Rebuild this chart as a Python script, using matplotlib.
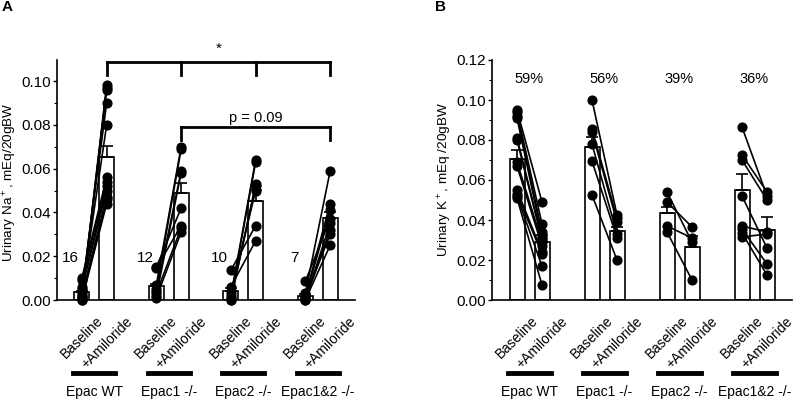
import numpy as np
import matplotlib
matplotlib.use("Agg")
import matplotlib.pyplot as plt
from matplotlib.ticker import MultipleLocator, FormatStrFormatter

plt.rcParams['font.family'] = ['Liberation Sans', 'DejaVu Sans']
plt.rcParams['mathtext.fontset'] = 'custom'
plt.rcParams['mathtext.rm'] = 'Liberation Sans'

groups = ["Epac WT", "Epac1 -/-", "Epac2 -/-", "Epac1&2 -/-"]
conds = ["Baseline", "+Amiloride"]

# Panel A: urinary Na+ (paired mice, baseline -> amiloride)
na_base = [
    [0.001, 0.000, 0.002, 0.004, 0.003, 0.010, 0.009, 0.006, 0.005, 0.002, 0.001, 0.000],
    [0.015, 0.0145, 0.007, 0.005, 0.004, 0.002, 0.001, 0.003],
    [0.0135, 0.006, 0.002, 0.001, 0.000, 0.000, 0.003],
    [0.0085, 0.003, 0.002, 0.001, 0.000, 0.0005, 0.001, 0.000],
]
na_amil = [
    [0.098, 0.097, 0.096, 0.090, 0.080, 0.056, 0.054, 0.052, 0.050, 0.047, 0.046, 0.044],
    [0.042, 0.034, 0.070, 0.069, 0.059, 0.058, 0.031, 0.033],
    [0.034, 0.027, 0.064, 0.063, 0.053, 0.052, 0.050],
    [0.037, 0.059, 0.044, 0.041, 0.035, 0.032, 0.030, 0.025],
]
na_mean_base = [0.0035, 0.0063, 0.0040, 0.0018]
na_sem_base = [0.0007, 0.0012, 0.0013, 0.0009]
na_mean_amil = [0.0652, 0.0487, 0.0452, 0.0373]
na_sem_amil = [0.0051, 0.0046, 0.0050, 0.0030]
na_counts = ["16", "12", "10", "7"]

# Panel B: urinary K+
k_base = [
    [0.095, 0.094, 0.092, 0.091, 0.081, 0.080, 0.069, 0.067, 0.055, 0.053, 0.052, 0.051],
    [0.100, 0.0855, 0.084, 0.078, 0.0695, 0.0525],
    [0.054, 0.049, 0.037, 0.034],
    [0.0865, 0.0725, 0.070, 0.052, 0.037, 0.0355, 0.0335, 0.0315],
]
k_amil = [
    [0.049, 0.038, 0.034, 0.032, 0.031, 0.030, 0.029, 0.027, 0.024, 0.023, 0.017, 0.0075],
    [0.0425, 0.041, 0.039, 0.033, 0.031, 0.020],
    [0.029, 0.0365, 0.031, 0.010],
    [0.052, 0.054, 0.050, 0.026, 0.034, 0.018, 0.0125, 0.033],
]
k_mean_base = [0.0705, 0.0767, 0.0437, 0.0550]
k_sem_base = [0.0045, 0.0050, 0.0030, 0.0080]
k_mean_amil = [0.0290, 0.0345, 0.0263, 0.0350]
k_sem_amil = [0.0033, 0.0022, 0.0055, 0.0063]
k_pct = ["59%", "56%", "39%", "36%"]

fig = plt.figure(figsize=(7.96, 4.01), dpi=100)
axA = fig.add_axes([57 / 796, 101 / 401, 298 / 796, 240 / 401])
axB = fig.add_axes([492 / 796, 101 / 401, 300 / 796, 240 / 401])

pos_b = np.arange(4) * 3 + 1
pos_a = pos_b + 1


def draw_panel(ax, base, amil, mb, sb, ma, sa, ymax, ylabel, ly):
    ax.bar(pos_b, mb, width=0.6, color="white", edgecolor="black", lw=1.2, zorder=1)
    ax.bar(pos_a, ma, width=0.6, color="white", edgecolor="black", lw=1.2, zorder=1)
    for g in range(4):
        for yb, ya in zip(base[g], amil[g]):
            ax.plot([pos_b[g], pos_a[g]], [yb, ya], color="black", lw=1.2,
                    marker="o", ms=6.3, zorder=3, clip_on=False)
    ax.errorbar(pos_b, mb, yerr=[np.zeros(4), sb], fmt="none", ecolor="black",
                elinewidth=1.2, capsize=4, capthick=1.2, zorder=2)
    ax.errorbar(pos_a, ma, yerr=[np.zeros(4), sa], fmt="none", ecolor="black",
                elinewidth=1.2, capsize=4, capthick=1.2, zorder=2)
    ax.set_xlim(0, 12)
    ax.set_ylim(0, ymax)
    ax.spines["top"].set_visible(False)
    ax.spines["right"].set_visible(False)
    ax.spines["left"].set_linewidth(1.2)
    ax.spines["bottom"].set_linewidth(1.2)
    ax.yaxis.set_major_locator(MultipleLocator(0.02))
    ax.yaxis.set_minor_locator(MultipleLocator(0.01))
    ax.yaxis.set_major_formatter(FormatStrFormatter("%.2f"))
    ax.tick_params(axis="y", which="major", length=3, width=1, pad=1.5, labelsize=11)
    ax.tick_params(axis="y", which="minor", length=2, width=0.8)
    ticks = np.sort(np.concatenate([pos_b, pos_a]))
    ax.set_xticks(ticks)
    ax.set_xticklabels(conds * 4, rotation=45, ha="center", va="top", fontsize=10)
    ax.tick_params(axis="x", length=0, pad=10)
    ax.set_ylabel(ylabel, fontsize=9.7)
    ax.yaxis.set_label_coords(-0.128, ly)
    for g in range(4):
        c = (pos_b[g] + pos_a[g]) / 2
        ax.plot([c - 0.85, c + 0.85], [-0.303, -0.303], color="black", lw=3.5,
                transform=ax.get_xaxis_transform(), clip_on=False)
        ax.text(c, -0.385, groups[g], transform=ax.get_xaxis_transform(),
                ha="center", va="center", fontsize=10)


draw_panel(axA, na_base, na_amil, na_mean_base, na_sem_base, na_mean_amil,
           na_sem_amil, 0.1096, r"Urinary Na$^+$, mEq/20gBW", 0.49)
draw_panel(axB, k_base, k_amil, k_mean_base, k_sem_base, k_mean_amil,
           k_sem_amil, 0.12, r"Urinary K$^+$, mEq /20gBW", 0.5)

# n labels in panel A
for g in range(4):
    axA.text(pos_b[g] - 0.45, 0.019, na_counts[g], ha="center", va="center", fontsize=11)

# significance brackets in panel A
y1, y0 = 0.1088, 0.1027
axA.plot([pos_a[0], pos_a[3]], [y1, y1], color="black", lw=2, clip_on=False)
for g in range(4):
    axA.plot([pos_a[g], pos_a[g]], [y0, y1], color="black", lw=2, clip_on=False)
axA.text((pos_a[0] + pos_a[3]) / 2, 0.1145, "*", ha="center", va="center", fontsize=11)

y1, y0 = 0.0790, 0.0731
axA.plot([pos_a[1], pos_a[3]], [y1, y1], color="black", lw=2, clip_on=False)
for g in (1, 3):
    axA.plot([pos_a[g], pos_a[g]], [y0, y1], color="black", lw=2, clip_on=False)
axA.text((pos_a[2]), 0.0832, "p = 0.09", ha="center", va="center", fontsize=10.5)

# percentage labels in panel B
for g in range(4):
    axB.text((pos_b[g] + pos_a[g]) / 2, 0.1105, k_pct[g], ha="center", va="center", fontsize=10.5)

fig.text(2 / 796, 1 - 7 / 401, "A", fontsize=11, fontweight="bold", va="center", ha="left")
fig.text(435 / 796, 1 - 7 / 401, "B", fontsize=11, fontweight="bold", va="center", ha="left")

fig.savefig("out.png", dpi=100)
